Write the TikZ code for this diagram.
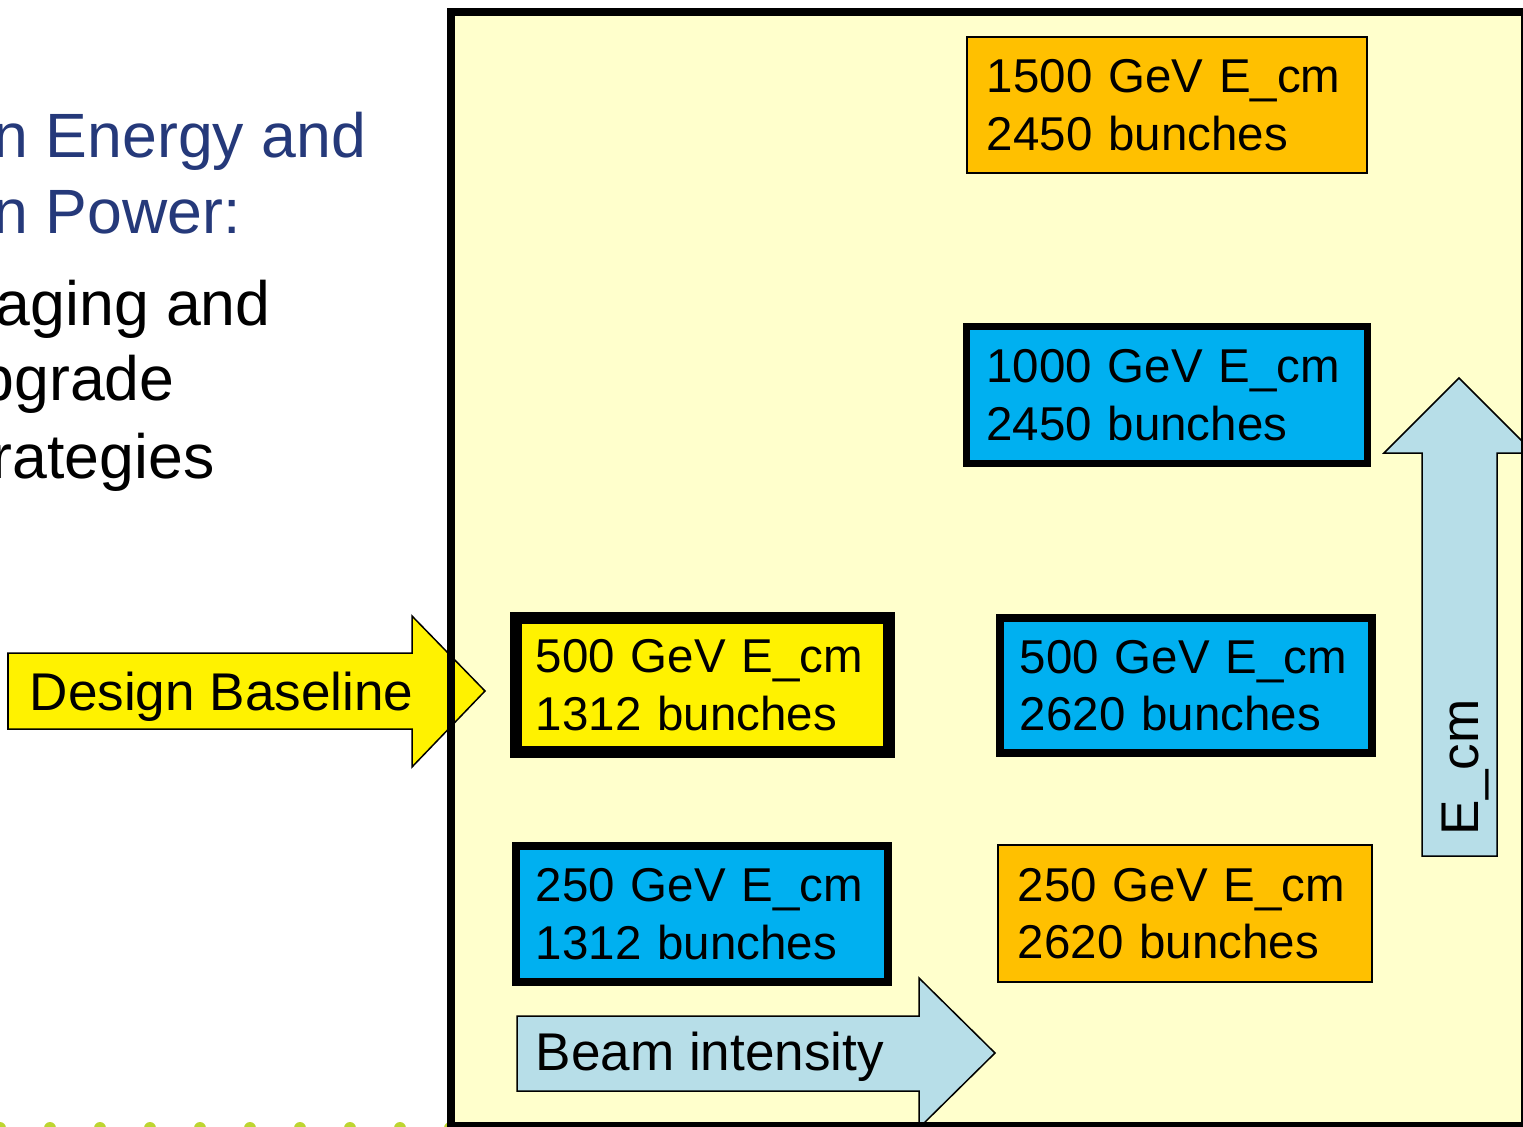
\documentclass[tikz,border=0pt]{standalone}
\usepackage{fontspec}
\setmainfont{Liberation Sans}
\usepackage{xcolor}
\usepackage{tikz}
\definecolor{panelbg}{HTML}{FFFFCC}
\definecolor{ilcorange}{HTML}{FFC000}
\definecolor{ilcblue}{HTML}{00B0F0}
\definecolor{arrowblue}{HTML}{B7DEE8}
\definecolor{titleblue}{HTML}{25397A}
\definecolor{dotgreen}{HTML}{BDD531}

\begin{document}
\begin{tikzpicture}[x=0.01cm,y=-0.01cm,
  bunchbox/.style 2 args={draw,align=left,inner xsep=0.2cm,inner ysep=0pt,
    minimum width=#1cm,minimum height=#2cm,text width=#1cm-0.4cm,
    font=\fontsize{13.5}{16.4}\selectfont},
  blockarrow/.style={draw,line width=0.015cm,line join=miter},
  arrowtext/.style={anchor=base west,inner sep=0pt,font=\fontsize{15.1}{17}\selectfont},
  sidetext/.style={anchor=base west,inner sep=0pt,font=\fontsize{17.8}{21.6}\selectfont}]
  \useasboundingbox (0,0) rectangle (1523,1127);
  \clip (0,0) rectangle (1523,1127);

  \node[sidetext,titleblue] (title1) at (-7,157) {n Energy and};
  \node[sidetext,titleblue] (title2) at (-7,233) {n Power:};
  \node[sidetext] (item1) at (-5,325) {aging and};
  \node[sidetext] (item2) at (-21,400) {pgrade};
  \node[sidetext] (item3) at (-9,478) {rategies};

  \foreach \x in {0,50,...,450}
    \fill[dotgreen] (\x,1128) circle (6);

  \fill[panelbg] (451,12) rectangle (1525,1126);

  \draw[blockarrow,fill=yellow] (8,653) -- (412,653) -- (412,616) -- (485,691)
    -- (412,767) -- (412,729) -- (8,729) -- cycle;
  \node[arrowtext] (baseline) at (29,710) {Design Baseline};

  \draw[blockarrow,fill=arrowblue] (517,1016) -- (919,1016) -- (919,978) -- (995,1053)
    -- (919,1128) -- (919,1091) -- (517,1091) -- cycle;
  \node[arrowtext] (intensity) at (535,1070) {Beam intensity};

  \draw[blockarrow,fill=arrowblue] (1422,856) -- (1422,453) -- (1384,453) -- (1459,378)
    -- (1534,453) -- (1497,453) -- (1497,856) -- cycle;
  \node[arrowtext,rotate=90] (ecm) at (1478,836) {E\_cm};

  \node[bunchbox={4.00}{1.36},fill=ilcorange,line width=0.015cm] (e1500) at (1167,105)
    {1500 GeV E\_cm\\2450 bunches};
  \node[bunchbox={4.01}{1.37},fill=ilcblue,line width=0.07cm] (e1000) at (1167,395)
    {1000 GeV E\_cm\\2450 bunches};
  \node[bunchbox={3.73}{1.34},fill=yellow,line width=0.12cm] (base) at (702.5,685)
    {500 GeV E\_cm\\1312 bunches};
  \node[bunchbox={3.72}{1.35},fill=ilcblue,line width=0.08cm] (e500) at (1186,685.5)
    {500 GeV E\_cm\\2620 bunches};
  \node[bunchbox={3.72}{1.36},fill=ilcblue,line width=0.08cm] (e250) at (702,914)
    {250 GeV E\_cm\\1312 bunches};
  \node[bunchbox={3.74}{1.37},fill=ilcorange,line width=0.015cm] (e250hi) at (1185,913.5)
    {250 GeV E\_cm\\2620 bunches};

  \draw[line width=0.08cm] (451,12) rectangle (1525,1126);
\end{tikzpicture}
\end{document}
